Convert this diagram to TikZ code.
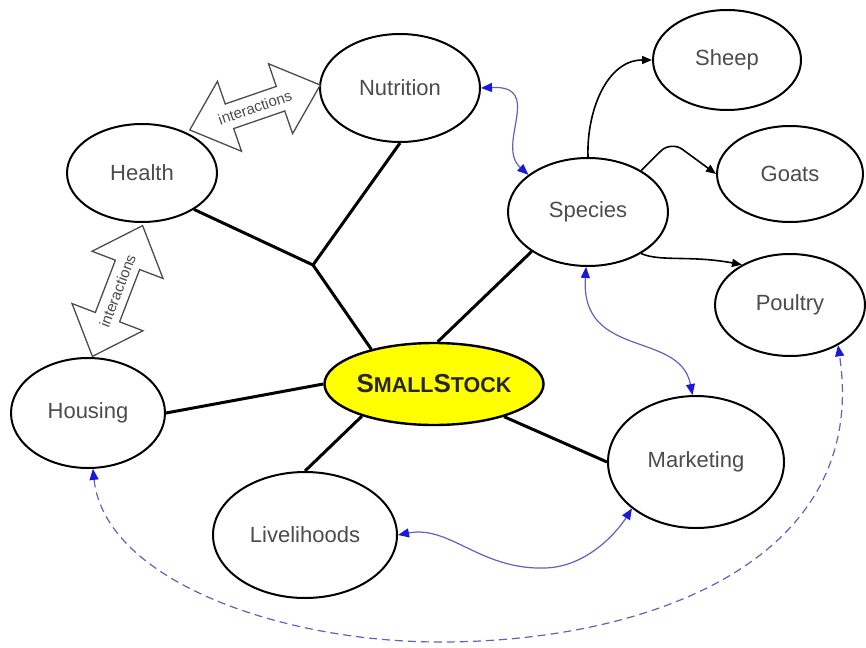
\documentclass[tikz,border=0pt]{standalone}
\usepackage{fontspec}
\setmainfont{Liberation Sans}
\usetikzlibrary{shapes.geometric,arrows.meta}
\definecolor{lineblue}{rgb}{0.38,0.38,0.75}
\definecolor{tipblue}{rgb}{0.1,0.1,0.85}
\definecolor{txt}{gray}{0.3}
\definecolor{ssyellow}{rgb}{1,1,0}
\begin{document}
\begin{tikzpicture}[x=1pt,y=-1pt,
  topic/.style={ellipse, draw=black, line width=2pt, fill=white, inner sep=0pt, text=txt, font=\fontsize{22}{26}\selectfont},
  hub/.style={line width=3pt, black},
  link/.style={line width=1.2pt, lineblue, {Triangle[length=11pt,width=9pt,color=tipblue]}-{Triangle[length=11pt,width=9pt,color=tipblue]}},
  sub/.style={line width=1.6pt, black, -{Triangle[length=10pt,width=8pt]}},
  dbl/.style={draw=black!70, line width=1.3pt, fill=white},
  dbltext/.style={text=txt, font=\fontsize{15}{18}\selectfont, inner sep=0pt},
]
\useasboundingbox (0,0) rectangle (866,647);
\fill[white] (0,0) rectangle (866,647);

% nodes
\node[topic, minimum width=160pt, minimum height=108pt] (nut) at (400,88) {Nutrition};
\node[topic, minimum width=150pt, minimum height=98pt] (health) at (142,173) {Health};
\node[topic, minimum width=154pt, minimum height=110pt] (house) at (88,413) {Housing};
\node[topic, minimum width=184pt, minimum height=126pt] (live) at (305,535) {Livelihoods};
\node[topic, minimum width=176pt, minimum height=132pt] (mkt) at (696,462) {Marketing};
\node[topic, minimum width=160pt, minimum height=108pt] (spec) at (588,212) {Species};
\node[topic, minimum width=148pt, minimum height=100pt] (sheep) at (727,60) {Sheep};
\node[topic, minimum width=146pt, minimum height=96pt] (goats) at (790,174) {Goats};
\node[topic, minimum width=150pt, minimum height=102pt] (poultry) at (790,305) {Poultry};
\node[topic, fill=ssyellow, line width=2.4pt, text={black!85}, minimum width=218pt, minimum height=82pt] (ss) at (434,384)
  {\bfseries\fontsize{26}{30}\selectfont S\fontsize{21.5}{26}\selectfont MALL\fontsize{26}{30}\selectfont S\fontsize{21.5}{26}\selectfont TOCK};

% hub
\coordinate (J) at (313,265);
\draw[hub] (nut.south) -- (J) -- (ss.151);
\draw[hub] (health.-35) -- (J);
\draw[hub] (spec.215) -- (ss.85);
\draw[hub] (house.east) -- (ss.west);
\draw[hub] (live.north) -- (ss.204);
\draw[hub] (mkt.west) -- (ss.-25);

% species sub-arrows
\draw[sub] (spec.north) to[out=92,in=180] (sheep.west);
\draw[sub, rounded corners=14pt] (spec.38) -- (671,141) -- (goats.west);
\draw[sub] (spec.-38) .. controls (660,262) and (690,255) .. (poultry.140);

% blue links
\draw[link] (nut.east) .. controls (545,85) and (495,145) .. (spec.148);
\draw[link] (spec.268) .. controls (580,360) and (680,330) .. (mkt.93);
\draw[link] (live.east) .. controls (450,525) and (480,570) .. (545,568) .. controls (585,567) and (615,535) .. (mkt.216);
\draw[link, dash pattern=on 8pt off 5pt] (house.-85) .. controls (105,580) and (280,642) .. (440,642) .. controls (650,642) and (870,560) .. (poultry.-40);

% interaction double arrows
\begin{scope}[shift={(255,107.5)}, rotate=19]
  \draw[dbl] (-69,0) -- (-27,-37) -- (-27,-13) -- (27,-13) -- (27,-37) -- (69,0) -- (27,37) -- (27,13) -- (-27,13) -- (-27,37) -- cycle;
  \node[dbltext, rotate=19] (int1) at (0,0) {interactions};
\end{scope}
\begin{scope}[shift={(117.5,291)}, rotate=69]
  \draw[dbl] (-70,0) -- (-28,-38) -- (-28,-13) -- (28,-13) -- (28,-38) -- (70,0) -- (28,38) -- (28,13) -- (-28,13) -- (-28,38) -- cycle;
  \node[dbltext, rotate=69] (int2) at (0,0) {interactions};
\end{scope}
\end{tikzpicture}
\end{document}
